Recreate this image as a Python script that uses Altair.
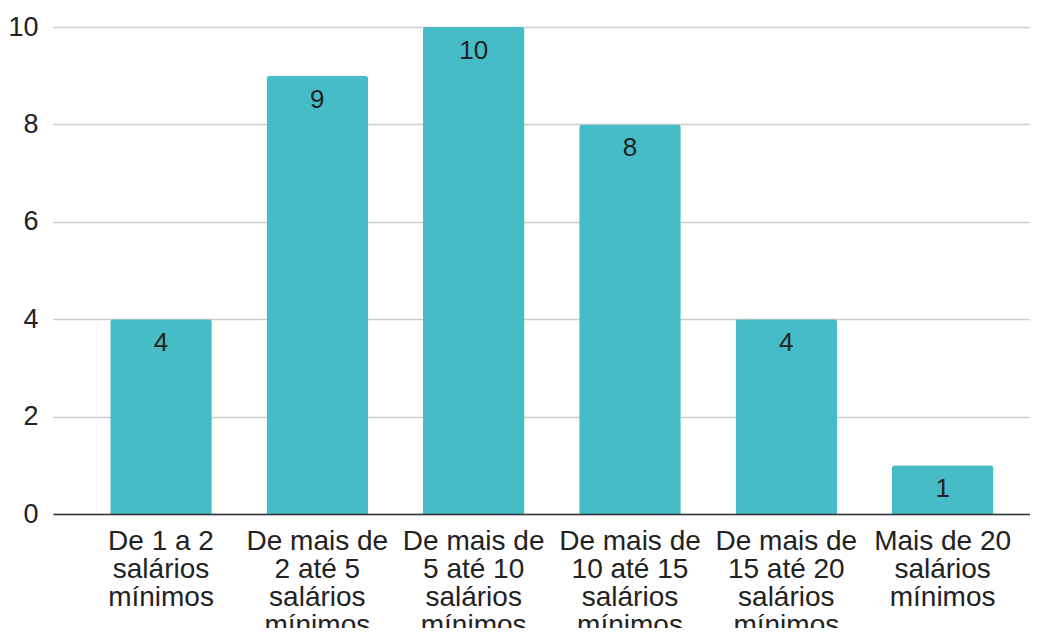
import altair as alt
import pandas as pd

categories = [
    "De 1 a 2|salários|mínimos",
    "De mais de|2 até 5|salários|mínimos",
    "De mais de|5 até 10|salários|mínimos",
    "De mais de|10 até 15|salários|mínimos",
    "De mais de|15 até 20|salários|mínimos",
    "Mais de 20|salários|mínimos",
]
values = [4, 9, 10, 8, 4, 1]
y_ticks = [0, 2, 4, 6, 8, 10]

df = pd.DataFrame({"cat": categories, "val": values})

FONT = "Liberation Sans"
BAR = "#46BDC6"
TXT = "#222222"

x_enc = alt.X(
    "cat:N",
    sort=categories,
    scale=alt.Scale(paddingInner=0.35, paddingOuter=0.3, align=0.61, round=False),
    axis=alt.Axis(
        title=None,
        labelAngle=0,
        ticks=False,
        labelPadding=13,
        labelFontSize=28,
        labelFont=FONT,
        labelColor=TXT,
        labelLineHeight=28,
        labelLimit=0,
        labelExpr="split(datum.label, '|')",
        domainColor="#333333",
        domainWidth=1.5,
        grid=False,
        zindex=1,
    ),
)

y_enc = alt.Y(
    "val:Q",
    scale=alt.Scale(domain=[0, 10], nice=False),
    axis=alt.Axis(
        title=None,
        values=y_ticks,
        ticks=False,
        domain=False,
        labelPadding=15,
        labelFontSize=27,
        labelFont=FONT,
        labelColor=TXT,
        gridColor="#cccccc",
        gridWidth=1.5,
        minExtent=45,
        maxExtent=45,
    ),
)

base = alt.Chart(df).encode(x=x_enc, y=y_enc)

bars = base.mark_bar(color=BAR, cornerRadiusTopLeft=3, cornerRadiusTopRight=3)
labels = base.mark_text(
    baseline="middle", align="center", dy=24, fontSize=26, font=FONT, color=TXT
).encode(text="val:Q")

chart = (
    alt.layer(bars, labels)
    .properties(
        width=977,
        height=487,
        autosize=alt.AutoSizeParams(type="none"),
        padding={"left": 45, "top": 19, "right": 0, "bottom": 114},
    )
    .configure_view(stroke=None)
)

chart.save("out.html", embed_options={"renderer": "svg", "actions": False})
